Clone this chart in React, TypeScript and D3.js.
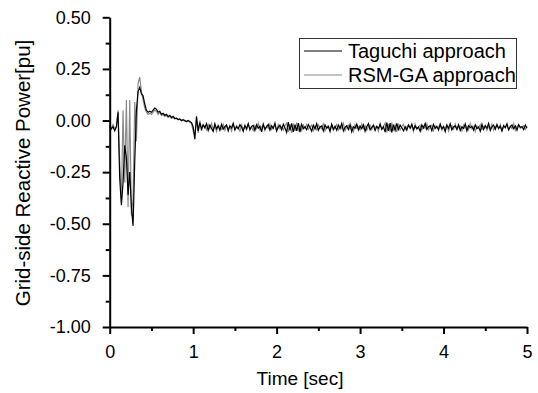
import React, { useEffect, useRef } from "react";
import * as d3 from "d3";

// sampled every 0.02 s, 0 .. 5 s
const sampleStep = 0.02;

const taguchi = [
  -0.03, -0.04, -0.03, -0.05, -0.03, 0.04, -0.28, -0.41, -0.3, -0.12,
  -0.18, -0.36, -0.25, -0.42, -0.51, -0.2, 0.05, 0.14, 0.16, 0.13,
  0.12, 0.08, 0.05, 0.04, 0.045, 0.04, 0.05, 0.06, 0.055, 0.04,
  0.045, 0.03, 0.035, 0.025, 0.03, 0.02, 0.025, 0.015, 0.02, 0.01,
  0.012, 0.005, 0.008, 0.0, 0.004, 0.0, -0.005, 0.0, -0.005, -0.01,
  -0.03, -0.09, 0.02, -0.05, -0.01, -0.04, -0.02,
  -0.035, -0.015, -0.048, -0.022, -0.038, -0.052, -0.016, -0.04, -0.026, -0.047,
  -0.018, -0.042, -0.03, -0.021, -0.05, -0.025, -0.036, -0.014, -0.046, -0.03,
  -0.04, -0.02, -0.032, -0.052, -0.023, -0.039, -0.015, -0.045, -0.029, -0.024,
  -0.048, -0.02, -0.037, -0.028, -0.055, -0.017, -0.042, -0.03, -0.019, -0.047,
  -0.026, -0.038, -0.012, -0.05, -0.032, -0.022, -0.044, -0.018, -0.036, -0.058,
  -0.008, -0.048, -0.014, -0.055, -0.02, -0.05, -0.012, -0.056, -0.018, -0.039,
  -0.03, -0.045, -0.02, -0.034, -0.052, -0.023, -0.04, -0.015, -0.047, -0.031,
  -0.026, -0.05, -0.021, -0.037, -0.029, -0.053, -0.018, -0.042, -0.028, -0.047,
  -0.022, -0.039, -0.014, -0.05, -0.033, -0.025, -0.044, -0.019, -0.054, -0.03,
  -0.037, -0.017, -0.046, -0.027, -0.04, -0.021, -0.052, -0.03, -0.015, -0.045,
  -0.033, -0.023, -0.048, -0.028, -0.038, -0.018, -0.043, -0.03, -0.056, -0.01,
  -0.05, -0.012, -0.057, -0.02, -0.048, -0.014, -0.044, -0.022, -0.035, -0.05,
  -0.03, -0.047, -0.022, -0.037, -0.017, -0.045, -0.026, -0.04, -0.032, -0.052,
  -0.021, -0.036, -0.014, -0.043, -0.03, -0.025, -0.049, -0.019, -0.038, -0.028,
  -0.046, -0.018, -0.04, -0.03, -0.054, -0.022, -0.037, -0.015, -0.045, -0.031,
  -0.026, -0.042, -0.02, -0.048, -0.03, -0.038, -0.016, -0.05, -0.025, -0.035,
  -0.028, -0.046, -0.021, -0.04, -0.032, -0.052, -0.018, -0.043, -0.026, -0.037,
  -0.014, -0.048, -0.03, -0.022, -0.042, -0.019, -0.038, -0.028, -0.05, -0.024,
  -0.034, -0.016, -0.045, -0.03, -0.022, -0.04, -0.026, -0.047, -0.02, -0.033,
  -0.03, -0.044, -0.022, -0.037,
];

const rsmGa = [
  -0.02, -0.04, -0.02, -0.04, -0.03, 0.05, -0.2, -0.38, 0.05, -0.3,
  0.1, -0.42, 0.1, -0.46, -0.38, 0.09, -0.1, 0.18, 0.21, 0.14,
  0.1, 0.06, 0.04, 0.03, 0.035, 0.03, 0.04, 0.05, 0.045, 0.03,
  0.04, 0.025, 0.03, 0.02, 0.025, 0.015, 0.02, 0.01, 0.015, 0.008,
  0.01, 0.003, 0.006, -0.002, 0.002, -0.003, -0.006, -0.002, -0.008, -0.015,
  -0.05, -0.07, 0.01, -0.06, 0.0, -0.05, -0.025,
  -0.028, -0.045, -0.02, -0.04, -0.014, -0.044, -0.026, -0.053, -0.022, -0.035,
  -0.043, -0.018, -0.047, -0.025, -0.038, -0.03, -0.051, -0.016, -0.041, -0.024,
  -0.033, -0.052, -0.021, -0.043, -0.028, -0.046, -0.019, -0.037, -0.031, -0.05,
  -0.025, -0.04, -0.013, -0.045, -0.03, -0.021, -0.049, -0.027, -0.038, -0.017,
  -0.044, -0.031, -0.023, -0.051, -0.02, -0.04, -0.03, -0.047, -0.025, -0.012,
  -0.055, -0.018, -0.06, -0.015, -0.05, -0.01, -0.052, -0.024, -0.048, -0.022,
  -0.038, -0.019, -0.042, -0.031, -0.022, -0.049, -0.027, -0.045, -0.02, -0.034,
  -0.04, -0.016, -0.051, -0.03, -0.025, -0.043, -0.021, -0.047, -0.033, -0.019,
  -0.046, -0.027, -0.038, -0.014, -0.05, -0.031, -0.023, -0.042, -0.028, -0.053,
  -0.02, -0.037, -0.03, -0.045, -0.017, -0.04, -0.025, -0.048, -0.031, -0.022,
  -0.043, -0.02, -0.035, -0.028, -0.052, -0.015, -0.042, -0.03, -0.012, -0.058,
  -0.016, -0.054, -0.01, -0.05, -0.022, -0.055, -0.02, -0.045, -0.03, -0.018,
  -0.044, -0.031, -0.021, -0.037, -0.028, -0.053, -0.018, -0.042, -0.03, -0.023,
  -0.047, -0.027, -0.038, -0.015, -0.044, -0.03, -0.022, -0.049, -0.026, -0.036,
  -0.031, -0.02, -0.046, -0.028, -0.04, -0.021, -0.051, -0.03, -0.024, -0.042,
  -0.017, -0.045, -0.031, -0.026, -0.05, -0.022, -0.036, -0.028, -0.046, -0.014,
  -0.04, -0.03, -0.053, -0.025, -0.035, -0.02, -0.044, -0.03, -0.022, -0.047,
  -0.028, -0.038, -0.017, -0.046, -0.031, -0.024, -0.041, -0.019, -0.05, -0.03,
  -0.036, -0.022, -0.045, -0.027, -0.039, -0.015, -0.047, -0.03, -0.023, -0.038,
  -0.031, -0.025, -0.043, -0.028,
];

const yTicks = [-1.0, -0.75, -0.5, -0.25, 0.0, 0.25, 0.5];
const yMinor = [-0.875, -0.625, -0.375, -0.125, 0.125, 0.375];
const xTicks = [0, 1, 2, 3, 4, 5];
const xMinor = [0.5, 1.5, 2.5, 3.5, 4.5];

const series = [
  { name: "Taguchi approach", values: taguchi, color: "#000" },
  { name: "RSM-GA approach", values: rsmGa, color: "#8a8a8a" },
];

export default function App() {
  const ref = useRef<SVGSVGElement>(null);

  useEffect(() => {
    const font = "'Liberation Sans', Arial, sans-serif";

    const svg = d3.select(ref.current);
    svg.selectAll("*").remove();

    const x = d3.scaleLinear().domain([0, 5]).range([109.7, 527]);
    const y = d3.scaleLinear().domain([-1, 0.5]).range([327, 17.3]);

    const line = d3
      .line<number>()
      .x((_, i) => x(i * sampleStep))
      .y((d) => y(d));

    // grey drawn first so the black trace sits on top
    [...series].reverse().forEach((s) => {
      svg
        .append("path")
        .datum(s.values)
        .attr("d", line)
        .attr("fill", "none")
        .attr("stroke", s.color)
        .attr("stroke-width", 1.2);
    });

    const fmt = (d: number) => d.toFixed(2);

    const yAxis = svg.append("g").attr("transform", `translate(${x(0)},0)`);
    yAxis.call(
      d3
        .axisLeft(y)
        .tickValues(yTicks)
        .tickFormat(fmt as any)
        .tickSize(7)
        .tickSizeOuter(0)
        .tickPadding(12)
    );
    yAxis
      .append("g")
      .call(d3.axisLeft(y).tickValues(yMinor).tickFormat(() => "").tickSize(4).tickSizeOuter(0))
      .select(".domain")
      .remove();

    const xAxis = svg.append("g").attr("transform", `translate(0,${y(-1)})`);
    xAxis.call(
      d3
        .axisBottom(x)
        .tickValues(xTicks)
        .tickFormat((d) => String(d))
        .tickSize(7)
        .tickSizeOuter(0)
        .tickPadding(11)
    );
    xAxis
      .append("g")
      .call(d3.axisBottom(x).tickValues(xMinor).tickFormat(() => "").tickSize(4).tickSizeOuter(0))
      .select(".domain")
      .remove();

    svg
      .selectAll(".domain, .tick line")
      .attr("stroke", "#000")
      .attr("stroke-width", 2);
    svg
      .selectAll(".tick text")
      .attr("fill", "#000")
      .style("font-family", font)
      .style("font-size", "18px");

    svg
      .append("text")
      .attr("x", 300)
      .attr("y", 385)
      .attr("text-anchor", "middle")
      .style("font-family", font)
      .style("font-size", "19px")
      .text("Time [sec]");

    svg
      .append("text")
      .attr("transform", `translate(30,173) rotate(-90)`)
      .attr("text-anchor", "middle")
      .style("font-family", font)
      .style("font-size", "20.5px")
      .text("Grid-side Reactive Power[pu]");

    // legend
    const legend = svg.append("g");
    legend
      .append("rect")
      .attr("x", 299.5)
      .attr("y", 38.5)
      .attr("width", 217)
      .attr("height", 50)
      .attr("fill", "#fff")
      .attr("stroke", "#333")
      .attr("stroke-width", 1);

    series.forEach((s, i) => {
      const ly = 51 + i * 24;
      legend
        .append("line")
        .attr("x1", 304)
        .attr("x2", 342)
        .attr("y1", ly)
        .attr("y2", ly)
        .attr("stroke", s.color)
        .attr("stroke-width", 1.2);
      legend
        .append("text")
        .attr("x", 348)
        .attr("y", ly + 6.5)
        .style("font-family", font)
        .style("font-size", "20px")
        .text(s.name);
    });
  }, []);

  return (
    <svg
      ref={ref}
      width={538}
      height={393}
      style={{ position: "absolute", left: 0, top: 0, background: "#fff" }}
    />
  );
}
